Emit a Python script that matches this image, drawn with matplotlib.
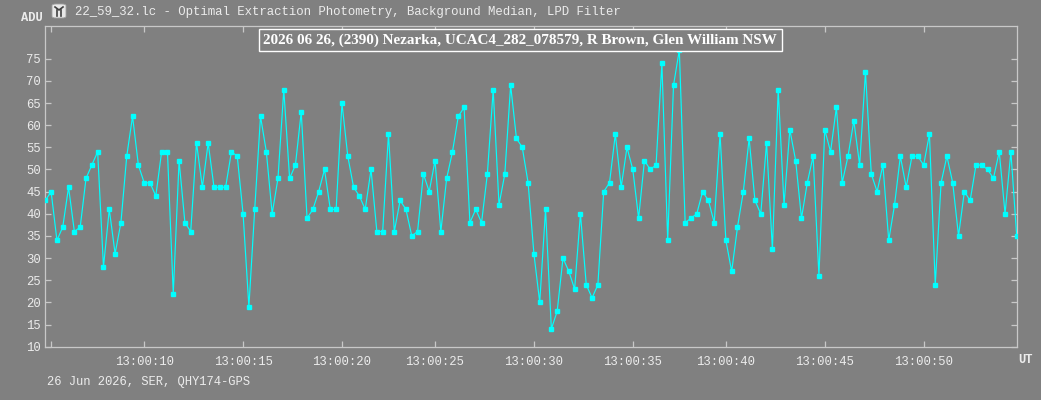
import numpy as np
import matplotlib.pyplot as plt
from matplotlib.patches import FancyBboxPatch

# ADU per frame (0.3 s frames)
adu = [
    43, 45, 34, 37, 46, 36, 37, 48, 51, 54, 28, 41, 31, 38, 53, 62, 51, 47, 47, 44,
    54, 54, 22, 52, 38, 36, 56, 46, 56,
    46, 46, 46, 54, 53, 40, 19, 41, 62, 54, 40, 48, 68, 48, 51, 63, 39, 41, 45, 50,
    41, 41, 65, 53, 46, 44, 41, 50,
    36, 36, 58, 36, 43, 41, 35, 36, 49, 45, 52, 36, 48, 54, 62, 64, 38, 41, 38, 49,
    68, 42, 49, 69, 57, 55, 47, 31, 20,
    41, 14, 18, 30, 27, 23, 40, 24, 21, 24, 45, 47, 58, 46, 55, 50, 39, 52, 50, 51,
    74, 34, 69, 77, 38, 39, 40, 45,
    43, 38, 58, 34, 27, 37, 45, 57, 43, 40, 56, 32, 68, 42, 59, 52, 39, 47, 53, 26,
    59, 54, 64, 47, 53, 61, 51, 72,
    49, 45, 51, 34, 42, 53, 46, 53, 53, 51, 58, 24, 47, 53, 47, 35, 45, 43, 51, 51,
    50, 48, 54, 40, 54, 35,
]
frames = np.arange(len(adu))

# first frame at/after each 5 s mark
tick_frames = [1, 17, 34, 51, 67, 84, 101, 117, 134, 151]
tick_labels = ["", "13:00:10", "13:00:15", "13:00:20", "13:00:25", "13:00:30",
               "13:00:35", "13:00:40", "13:00:45", "13:00:50"]
y_ticks = list(range(10, 80, 5))

title = "22_59_32.lc - Optimal Extraction Photometry, Background Median, LPD Filter"
box_title = "2026 06 26, (2390) Nezarka, UCAC4_282_078579, R Brown, Glen William NSW"
footer = "26 Jun 2026, SER, QHY174-GPS"

BG = "#808080"
AXC = "#c8c8c8"
TXT = "#ececec"
MONO = "Liberation Mono"

fig = plt.figure(figsize=(10.41, 4.0), dpi=100, facecolor=BG)
ax = fig.add_axes([45.3 / 1041, 53.3 / 400, (1016.7 - 45.3) / 1041, (374.5 - 53.3) / 400])
ax.set_facecolor(BG)

ax.plot(frames, adu, color="#00ffff", lw=0.85, marker="s", ms=2.3, mec="#00ffff",
        mfc="#00ffff", zorder=3)

ax.set_xlim(0, len(adu) - 1)
ax.set_ylim(10, 82.5)
ax.set_xticks(tick_frames)
ax.set_xticklabels(tick_labels)
ax.set_yticks(y_ticks)
ax.set_yticklabels([str(v) for v in y_ticks])

for s in ax.spines.values():
    s.set_color(AXC)
    s.set_linewidth(0.9)
ax.tick_params(axis="both", direction="in", length=4.5, width=0.9, color=AXC,
               labelcolor=TXT, labelsize=8.8, top=True, right=True)
ax.tick_params(axis="x", pad=7)
ax.tick_params(axis="y", pad=3)
for lab in ax.get_xticklabels() + ax.get_yticklabels():
    lab.set_family(MONO)

# header / footer texts
fig.text(75 / 1041, 1 - 12 / 400, title, family=MONO, fontsize=8.9, color=TXT,
         va="center", ha="left")
fig.text(43 / 1041, 1 - 18 / 400, "ADU", family=MONO, fontsize=8.7, color=TXT,
         va="center", ha="right", fontweight="bold")
fig.text(47 / 1041, 1 - 382 / 400, footer, family=MONO, fontsize=8.7, color=TXT,
         va="center", ha="left")
fig.text(1018 / 1041, 1 - 360 / 400, "UT", family=MONO, fontsize=8.7, color=TXT,
         va="center", ha="left", fontweight="bold")

# little app icon
icon = FancyBboxPatch((52 / 1041, 1 - 18 / 400), 14 / 1041, 14 / 400,
                      boxstyle="round,pad=0,rounding_size=0.004",
                      transform=fig.transFigure, facecolor="#e8e8e8",
                      edgecolor="#a0a0a0", lw=0.6)
fig.patches.append(icon)
for xs, ys in [([55, 59, 63], [7, 10, 7]), ([57, 57], [10, 16]), ([61, 61], [10, 16])]:
    fig.lines.append(plt.Line2D([x / 1041 for x in xs], [1 - y / 400 for y in ys],
                                transform=fig.transFigure, color="#404040", lw=1.2))

# boxed caption inside the plot
ax.text(0.489, 0.955, box_title, transform=ax.transAxes, ha="center", va="center",
        family="Liberation Serif", fontweight="bold", fontsize=10.9, color="white",
        zorder=5,
        bbox=dict(boxstyle="square,pad=0.3", facecolor=BG, edgecolor="white", lw=1.0))

fig.savefig("out.png", dpi=100, facecolor=BG)
